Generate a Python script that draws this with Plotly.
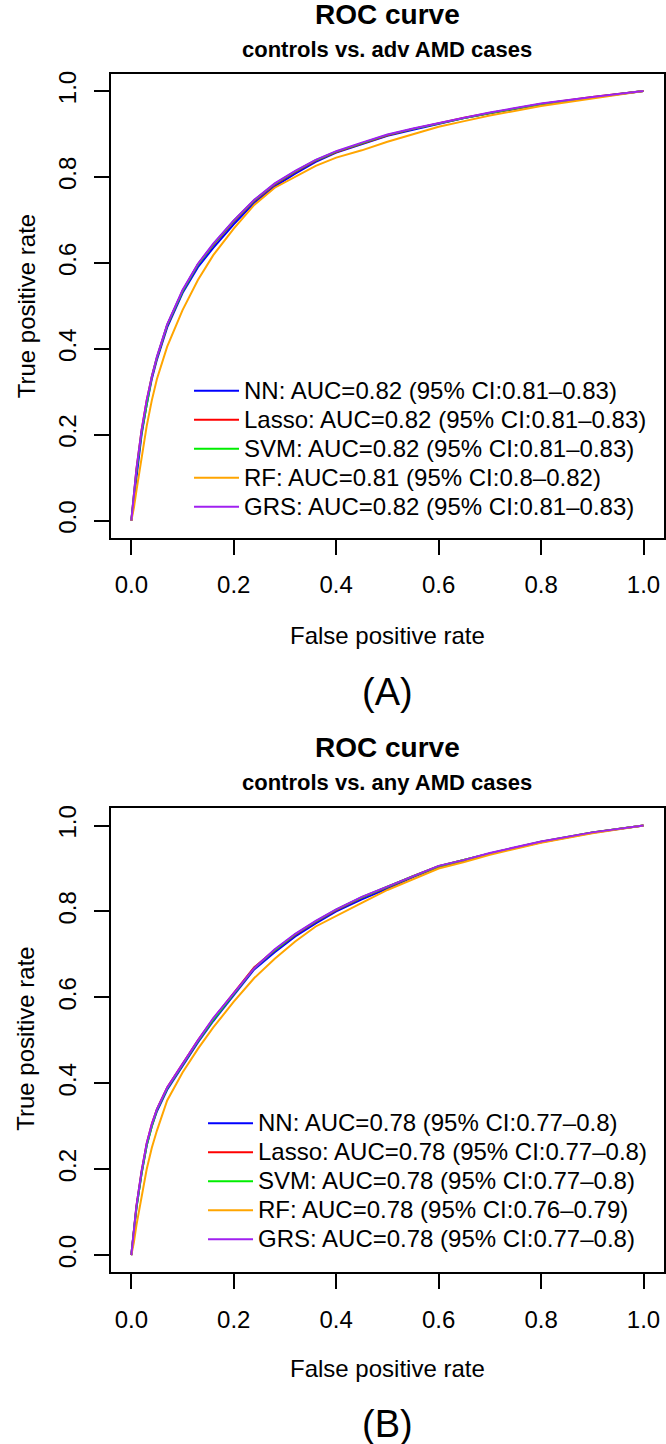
import plotly.graph_objects as go

# ---------------- data ----------------
models = ["NN", "Lasso", "SVM", "RF", "GRS"]
colors = ["#0000FF", "#FF0000", "#00EE00", "#FFA500", "#A020F0"]

fpr_grid = [0, 0.005, 0.01, 0.02, 0.03, 0.04, 0.05, 0.07, 0.1, 0.13, 0.16, 0.2, 0.24,
            0.28, 0.32, 0.36, 0.4, 0.45, 0.5, 0.55, 0.6, 0.65, 0.7, 0.8, 0.9, 1.0]

# Panel A: controls vs. adv AMD cases
tpr_a_nn    = [0, .05, .11, .20, .27, .33, .375, .45, .53, .59, .635, .69, .74, .778, .808, .835, .857, .877, .896, .91, .924, .937, .948, .969, .985, 1]
tpr_a_lasso = [0, .06, .12, .21, .28, .335, .38, .455, .535, .597, .642, .697, .745, .783, .812, .838, .858, .878, .897, .912, .925, .938, .949, .97, .986, 1]
tpr_a_svm   = [0, .055, .115, .205, .275, .335, .38, .455, .534, .596, .643, .698, .746, .784, .813, .839, .859, .879, .898, .912, .925, .937, .949, .97, .985, 1]
tpr_a_rf    = [0, .03, .07, .15, .22, .28, .33, .405, .49, .56, .618, .68, .735, .775, .80, .826, .845, .862, .882, .90, .917, .93, .943, .965, .982, 1]
tpr_a_grs   = [0, .06, .12, .21, .28, .335, .382, .457, .537, .598, .645, .699, .747, .785, .814, .84, .86, .88, .899, .913, .926, .938, .95, .971, .986, 1]

# Panel B: controls vs. any AMD cases
tpr_b_nn    = [0, .06, .11, .19, .255, .30, .335, .385, .44, .495, .545, .605, .665, .705, .742, .772, .80, .828, .853, .88, .903, .918, .934, .961, .983, 1]
tpr_b_lasso = [0, .06, .115, .195, .26, .305, .34, .39, .445, .50, .55, .61, .67, .71, .746, .776, .803, .832, .857, .882, .905, .92, .935, .962, .984, 1]
tpr_b_svm   = [0, .055, .11, .19, .255, .30, .338, .388, .443, .498, .548, .608, .668, .71, .747, .777, .804, .833, .858, .882, .905, .92, .935, .962, .984, 1]
tpr_b_rf    = [0, .03, .07, .14, .20, .25, .29, .36, .425, .48, .53, .59, .645, .69, .73, .765, .79, .82, .85, .875, .90, .915, .932, .96, .982, 1]
tpr_b_grs   = [0, .06, .115, .195, .26, .305, .34, .39, .446, .50, .552, .61, .668, .712, .748, .778, .805, .834, .858, .883, .906, .92, .936, .963, .984, 1]

legend_a = ["NN: AUC=0.82 (95% CI:0.81\u20130.83)",
            "Lasso: AUC=0.82 (95% CI:0.81\u20130.83)",
            "SVM: AUC=0.82 (95% CI:0.81\u20130.83)",
            "RF: AUC=0.81 (95% CI:0.8\u20130.82)",
            "GRS: AUC=0.82 (95% CI:0.81\u20130.83)"]
legend_b = ["NN: AUC=0.78 (95% CI:0.77\u20130.8)",
            "Lasso: AUC=0.78 (95% CI:0.77\u20130.8)",
            "SVM: AUC=0.78 (95% CI:0.77\u20130.8)",
            "RF: AUC=0.78 (95% CI:0.76\u20130.79)",
            "GRS: AUC=0.78 (95% CI:0.77\u20130.8)"]

tick_vals = [0, 0.2, 0.4, 0.6, 0.8, 1.0]
tick_text = ["0.0", "0.2", "0.4", "0.6", "0.8", "1.0"]

# ---------------- figure ----------------
W, H = 666, 1444
FONT = "Liberation Sans, Arial, Helvetica, sans-serif"
LEG_TEXT_PX = 24


def py(px):
    return 1 - px / H


def leg_label(s):
    return '<span style="font-size:%dpx">%s</span>' % (LEG_TEXT_PX, s)


fig = go.Figure()

tpr_a = [tpr_a_nn, tpr_a_lasso, tpr_a_svm, tpr_a_rf, tpr_a_grs]
tpr_b = [tpr_b_nn, tpr_b_lasso, tpr_b_svm, tpr_b_rf, tpr_b_grs]

for i, m in enumerate(models):
    fig.add_trace(go.Scatter(x=fpr_grid, y=tpr_a[i], mode="lines", name=leg_label(legend_a[i]),
                             line=dict(color=colors[i], width=2), xaxis="x", yaxis="y",
                             legend="legend"))
for i, m in enumerate(models):
    fig.add_trace(go.Scatter(x=fpr_grid, y=tpr_b[i], mode="lines", name=leg_label(legend_b[i]),
                             line=dict(color=colors[i], width=2), xaxis="x2", yaxis="y2",
                             legend="legend2"))

axis_common = dict(range=[-0.04, 1.04], showgrid=False, zeroline=False, showline=True,
                   linecolor="black", linewidth=1.5, mirror=True, ticks="outside",
                   ticklen=15, tickwidth=1.5, tickcolor="black", tickvals=tick_vals,
                   ticktext=tick_text, tickfont=dict(size=24, family=FONT, color="black"))

xdom = [111 / W, 665 / W]
ydom_a = [py(536), py(71)]
ydom_b = [py(1272), py(807)]

leg_common = dict(xanchor="right", yanchor="top", bgcolor="rgba(0,0,0,0)",
                  font=dict(size=20, family=FONT, color="black"),
                  itemwidth=45, tracegroupgap=0)

fig.update_layout(
    width=W, height=H,
    margin=dict(l=0, r=0, t=0, b=0),
    paper_bgcolor="white", plot_bgcolor="white",
    font=dict(family=FONT, color="black"),
    xaxis=dict(domain=xdom, anchor="y", ticklabelstandoff=10, **axis_common),
    yaxis=dict(domain=ydom_a, anchor="x", tickangle=-90, ticklabelstandoff=8, **axis_common),
    xaxis2=dict(domain=xdom, anchor="y2", ticklabelstandoff=10, **axis_common),
    yaxis2=dict(domain=ydom_b, anchor="x2", tickangle=-90, ticklabelstandoff=8, **axis_common),
    legend=dict(x=653 / W, y=py(369), **leg_common),
    legend2=dict(x=653 / W, y=py(1103), **leg_common),
    showlegend=True,
)

cx = (111 + 665) / 2 / W
annots = []
for off, sub, lab in [(0, "controls vs. adv AMD cases", "(A)"),
                      (734, "controls vs. any AMD cases", "(B)")]:
    annots += [
        dict(text="<b>ROC curve</b>", x=cx, y=py(12 + off), font=dict(size=28)),
        dict(text="<b>" + sub + "</b>", x=cx, y=py(47 + off), font=dict(size=22)),
        dict(text="False positive rate", x=cx, y=py(634 + off), font=dict(size=24)),
        dict(text=lab, x=cx, y=py(690 + off), font=dict(size=38)),
        dict(text="True positive rate", x=26 / W, y=py(303 + off), textangle=-90,
             font=dict(size=24)),
    ]
for a in annots:
    a.update(xref="paper", yref="paper", xanchor="center", yanchor="middle",
             showarrow=False)
    a["font"].update(family=FONT, color="black")
fig.update_layout(annotations=annots)

fig.write_html(
    "out.html",
    config={"displayModeBar": False},
    post_script="document.body.style.margin='0';document.body.style.overflow='hidden';"
                "document.documentElement.style.overflow='hidden';",
)
